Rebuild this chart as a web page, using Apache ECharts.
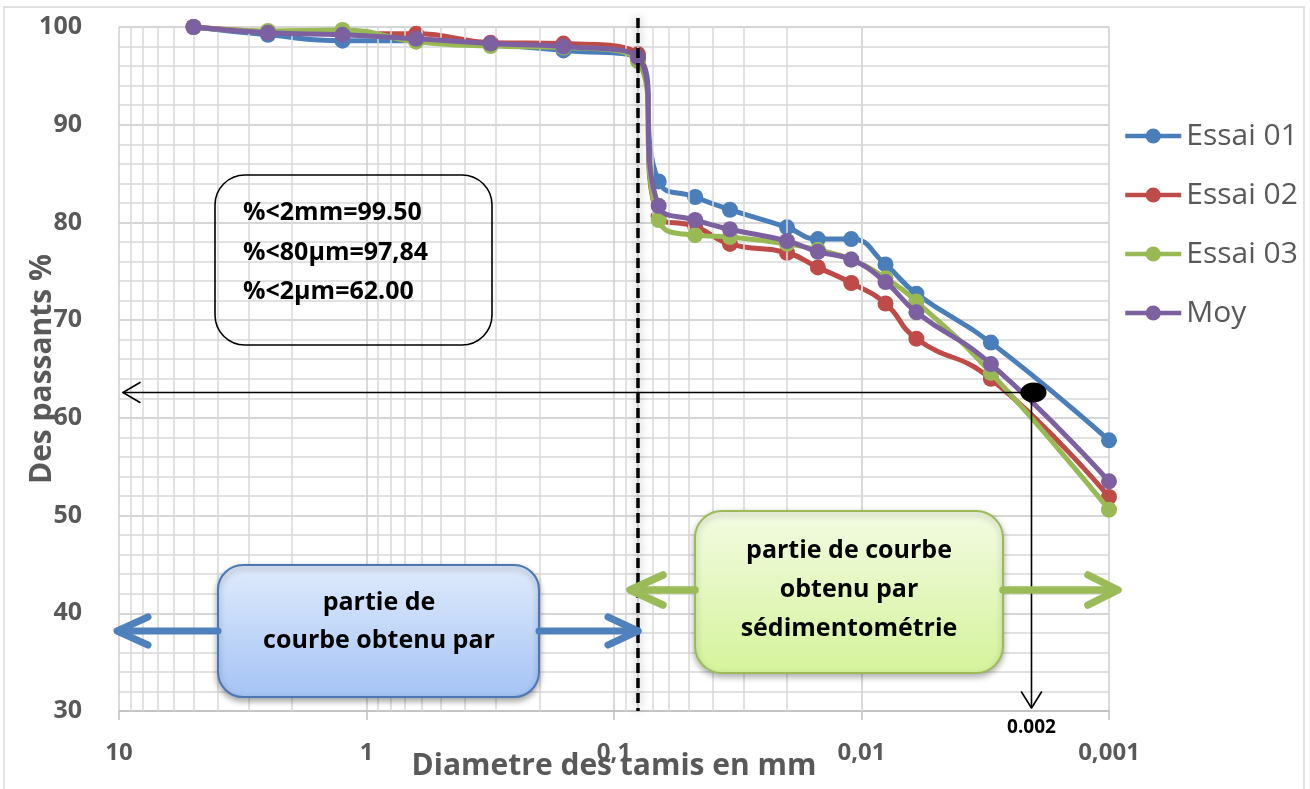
<!DOCTYPE html>
<html><head><meta charset="utf-8">
<script src="https://cdn.jsdelivr.net/npm/echarts@6/dist/echarts.min.js"></script>
<style>html,body{margin:0;padding:0;background:#fff}#c{width:1310px;height:789px}</style>
</head><body><div id="c"></div>
<script>
// ---- data ----
const diameters = [5, 2.5, 1.25, 0.63, 0.315, 0.16, 0.08, 0.066, 0.047, 0.034, 0.020, 0.015, 0.011, 0.008, 0.006, 0.003, 0.001];
const essai01 = [100, 99.2, 98.6, 98.6, 98.2, 97.6, 96.8, 84.2, 82.6, 81.3, 79.5, 78.3, 78.3, 75.7, 72.7, 67.7, 57.7];
const essai02 = [100, 99.5, 99.3, 99.3, 98.4, 98.3, 97.2, 80.6, 79.6, 77.8, 76.9, 75.4, 73.8, 71.7, 68.1, 64.0, 51.9];
const essai03 = [100, 99.6, 99.7, 98.5, 98.05, 97.9, 96.5, 80.25, 78.7, 78.5, 77.8, 77.2, 76.2, 74.3, 71.9, 64.6, 50.6];
const moy     = [100, 99.4, 99.2, 98.8, 98.3, 98.0, 96.9, 81.7, 80.25, 79.3, 78.1, 77.0, 76.2, 73.9, 70.8, 65.5, 53.5];
const seriesNames = ['Essai 01', 'Essai 02', 'Essai 03', 'Moy'];
const xTickValues = [10, 1, 0.1, 0.01, 0.001];
const xTickLabels = ['10', '1', '0,1', '0,01', '0,001'];
const separatorDiameter = 0.08;     // limite tamisage / sédimentométrie
const clayDiameter = 0.002;         // 2 µm
const clayPassing = 62.6;           // lecture sur la courbe
const clayLabel = '0.002';
const infoLines = ['%<2mm=99.50', '%<80µm=97,84', '%<2µm=62.00'];
const blueText = ['partie de', 'courbe obtenu par'];
const greenText = ['partie de courbe', 'obtenu par', 'sédimentométrie'];

const colors = ['#4a7ebb', '#be4b48', '#98b954', '#7d60a0'];
const FONT = '"Open Sans", "Liberation Sans", sans-serif';

// minor log gridlines (2..9 within each decade)
const minorX = [];
[0.001, 0.01, 0.1, 1].forEach(d => { for (let k = 2; k <= 9; k++) minorX.push(+(k * d).toPrecision(6)); });

const chart = echarts.init(document.getElementById('c'), null, {renderer: 'canvas'});
const mk = arr => diameters.map((d, i) => [d, arr[i]]);
const allData = [essai01, essai02, essai03, moy];

const series = [{
  type: 'line', name: '_grid', data: [], silent: true, z: 0,
  markLine: {
    silent: true, symbol: 'none', animation: false,
    label: {show: false},
    lineStyle: {color: '#d9d9d9', width: 1.5, type: 'solid'},
    data: minorX.map(v => ({xAxis: v}))
  }
}];
allData.forEach((arr, i) => series.push({
  type: 'line', name: seriesNames[i], data: mk(arr), smooth: 0.5,
  symbol: 'circle', symbolSize: 16, showSymbol: true,
  lineStyle: {color: colors[i], width: 5},
  itemStyle: {color: colors[i]},
  z: 3 + i
}));

const option = {
  animation: false,
  backgroundColor: '#fff',
  textStyle: {fontFamily: FONT},
  grid: {left: 119, right: 201, top: 27, bottom: 78, containLabel: false, outerBoundsMode: 'none'},
  legend: {
    data: seriesNames, orient: 'vertical', left: 1118, top: 116,
    itemWidth: 56, itemHeight: 19, itemGap: 29,
    lineStyle: {width: 4.5},
    textStyle: {fontSize: 30, color: '#595959', fontFamily: FONT}
  },
  xAxis: {
    type: 'log', logBase: 10, min: 0.001, max: 10, inverse: true,
    name: 'Diametre des tamis en mm', nameLocation: 'middle', nameGap: 40, nameMoveOverlap: false,
    nameTextStyle: {fontSize: 30, fontWeight: 'bold', color: '#595959', fontFamily: FONT},
    axisLine: {show: true, lineStyle: {color: '#bfbfbf', width: 1.5}},
    axisTick: {show: true, length: 9, lineStyle: {color: '#bfbfbf', width: 1.5}},
    axisLabel: {
      margin: 30, fontSize: 24, fontWeight: 'bold', color: '#595959', fontFamily: FONT,
      formatter: v => {
        for (let i = 0; i < xTickValues.length; i++)
          if (Math.abs(Math.log10(v) - Math.log10(xTickValues[i])) < 1e-6) return xTickLabels[i];
        return '';
      }
    },
    splitLine: {show: true, lineStyle: {color: '#cfcfcf', width: 1.5}},
    minorTick: {show: false}, minorSplitLine: {show: false}
  },
  yAxis: {
    type: 'value', min: 30, max: 100, interval: 10,
    name: 'Des passants %', nameLocation: 'middle', nameGap: 62, nameRotate: 90, nameMoveOverlap: false,
    nameTextStyle: {fontSize: 30, fontWeight: 'bold', color: '#595959', fontFamily: FONT},
    axisLine: {show: false},
    axisTick: {show: false},
    axisLabel: {margin: 37, fontSize: 25, fontWeight: 'bold', color: '#595959', fontFamily: FONT},
    splitLine: {show: true, lineStyle: {color: '#c8c8c8', width: 1.5}},
    minorTick: {show: false, splitNumber: 5},
    minorSplitLine: {show: true, lineStyle: {color: '#d9d9d9', width: 1.5}}
  },
  series: series
};
chart.setOption(option);

// ---- annotations positioned through the axes ----
const P = (x, y) => chart.convertToPixel({xAxisIndex: 0, yAxisIndex: 0}, [x, y]);
const sep = P(separatorDiameter, 30);
const clay = P(clayDiameter, clayPassing);
const leftEnd = P(10, clayPassing);
const bottomClay = P(clayDiameter, 30);

function chevron(tip, dir, back, half, color, w) {
  let pts;
  if (dir === 'left') pts = [[tip[0] + back, tip[1] - half], tip, [tip[0] + back, tip[1] + half]];
  else if (dir === 'right') pts = [[tip[0] - back, tip[1] - half], tip, [tip[0] - back, tip[1] + half]];
  else pts = [[tip[0] - half, tip[1] - back], tip, [tip[0] + half, tip[1] - back]];
  return {type: 'polyline', z: 100, shape: {points: pts}, style: {stroke: color, lineWidth: w, fill: null, lineCap: 'round', lineJoin: 'round'}};
}
function hline(x1, x2, y, color, w) {
  return {type: 'line', z: 100, shape: {x1, y1: y, x2, y2: y}, style: {stroke: color, lineWidth: w, lineCap: 'round'}};
}

const blue = '#4f81bd', green = '#9bbb59';
const graphics = [
  {type: 'rect', z: -1, shape: {x: 4, y: 7, width: 1300, height: 790}, style: {fill: null, stroke: '#d9d9d9', lineWidth: 1.5}},
  {type: 'line', z: 90, shape: {x1: sep[0], y1: 18, x2: sep[0], y2: sep[1]},
   style: {stroke: '#000', lineWidth: 3.5, lineDash: [10, 5], shadowBlur: 10, shadowColor: 'rgba(0,0,0,0.4)'}},
  hline(clay[0], leftEnd[0] + 4, clay[1], '#000', 1.6),
  chevron([leftEnd[0] + 4, clay[1]], 'left', 17, 10, '#000', 1.6),
  {type: 'line', z: 100, shape: {x1: clay[0] - 3, y1: clay[1], x2: clay[0] - 3, y2: bottomClay[1] - 3}, style: {stroke: '#000', lineWidth: 1.6}},
  chevron([clay[0] - 3, bottomClay[1] - 3], 'down', 16, 10, '#000', 1.6),
  {type: 'ellipse', z: 101, shape: {cx: clay[0] - 1, cy: clay[1], rx: 13, ry: 10}, style: {fill: '#000'}},
  {type: 'text', z: 101, style: {text: clayLabel, x: clay[0] - 3, y: bottomClay[1] + 17, align: 'center', verticalAlign: 'middle',
   font: 'bold 19px ' + FONT, fill: '#000'}},
  {type: 'rect', z: 95, shape: {x: 215, y: 175, width: 277, height: 170, r: 30}, style: {fill: null, stroke: '#000', lineWidth: 1.6}},
  {type: 'text', z: 96, style: {text: infoLines.join('\n'), x: 243, y: 252.5, align: 'left', verticalAlign: 'middle',
   lineHeight: 39.5, font: 'bold 25px ' + FONT, fill: '#000'}},
  hline(218, leftEnd[0] - 1, 631, blue, 7),
  chevron([leftEnd[0] - 2, 631], 'left', 31, 14, blue, 7),
  hline(539, sep[0], 631, blue, 7),
  chevron([sep[0], 631], 'right', 30, 14, blue, 7),
  {type: 'rect', z: 96, shape: {x: 218, y: 565, width: 321, height: 132, r: 25},
   style: {stroke: '#4a78b5', lineWidth: 2,
     fill: new echarts.graphic.LinearGradient(0, 0, 0, 1, [{offset: 0, color: '#e0ebfc'}, {offset: 1, color: '#a4c3f5'}]),
     shadowBlur: 6, shadowOffsetY: 3, shadowColor: 'rgba(0,0,0,0.35)'}},
  {type: 'text', z: 97, style: {text: blueText.join('\n'), x: 379, y: 622, align: 'center', verticalAlign: 'middle',
   lineHeight: 38, font: 'bold 25px ' + FONT, fill: '#000'}},
  hline(695, 632, 590, green, 7.5),
  chevron([630, 590], 'left', 33, 15, green, 7.5),
  hline(1003, 1117, 590, green, 7.5),
  chevron([1118, 590], 'right', 30, 15, green, 7.5),
  {type: 'rect', z: 96, shape: {x: 695, y: 511, width: 308, height: 162, r: 27},
   style: {stroke: green, lineWidth: 2,
     fill: new echarts.graphic.LinearGradient(0, 0, 0, 1, [{offset: 0, color: '#f3fbe3'}, {offset: 1, color: '#d5f39b'}]),
     shadowBlur: 6, shadowOffsetY: 3, shadowColor: 'rgba(0,0,0,0.3)'}},
  {type: 'text', z: 97, style: {text: greenText.join('\n'), x: 849, y: 590, align: 'center', verticalAlign: 'middle',
   lineHeight: 39, font: 'bold 25px ' + FONT, fill: '#000'}}
];
chart.setOption({graphic: graphics});
</script>
</body></html>
